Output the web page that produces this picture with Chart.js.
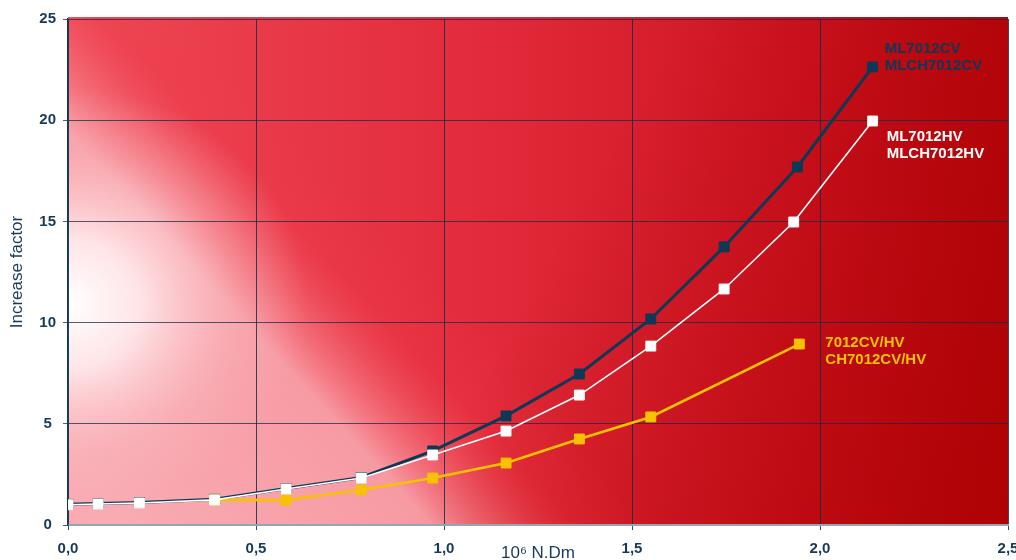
<!DOCTYPE html>
<html>
<head>
<meta charset="utf-8">
<script src="https://cdn.jsdelivr.net/npm/chart.js@4/dist/chart.umd.min.js"></script>
<style>
  html, body { margin: 0; padding: 0; background: #ffffff; }
  #wrap { width: 1016px; height: 560px; }
</style>
</head>
<body>
<div id="wrap"><canvas id="factorChart"></canvas></div>
<script>
// x values (10^6 N.Dm) and increase factor per series
var xCV = [0, 0.08, 0.19, 0.39, 0.58, 0.78, 0.97, 1.165, 1.36, 1.55, 1.745, 1.94, 2.14];
var yCV = [1.02, 1.06, 1.11, 1.27, 1.8, 2.35, 3.66, 5.39, 7.46, 10.18, 13.74, 17.69, 22.63];

var xHV = [0, 0.08, 0.19, 0.39, 0.58, 0.78, 0.97, 1.165, 1.36, 1.55, 1.745, 1.93, 2.14];
var yHV = [1.0, 1.04, 1.09, 1.24, 1.78, 2.32, 3.46, 4.64, 6.42, 8.84, 11.66, 14.97, 19.96];

var xStd = [0.39, 0.58, 0.78, 0.97, 1.165, 1.36, 1.55, 1.945];
var yStd = [1.24, 1.23, 1.73, 2.32, 3.06, 4.25, 5.34, 8.94];

var labelsCV = ["ML7012CV", "MLCH7012CV"];
var labelsHV = ["ML7012HV", "MLCH7012HV"];
var labelsStd = ["7012CV/HV", "CH7012CV/HV"];

var xTitle = "10\u2076 N.Dm";
var yTitle = "Increase factor";

var navy = "#0c3a56";
var textNavy = "#17395a";
var yellow = "#f7c200";
var fontFam = "'Liberation Sans', Arial, sans-serif";

function toPoints(xs, ys){
    return xs.map(function(x, i){ return {x: x, y: ys[i]}; });
}

// red/pink/white background of the plot area
var backgroundPlugin = {
    id: 'plotBackground',
    beforeDraw: function(chart){
        var ctx = chart.ctx;
        var a = chart.chartArea;
        var w = a.right - a.left, h = a.bottom - a.top + 2;
        ctx.save();
        var g = ctx.createLinearGradient(a.left, 0, a.right, 0);
        g.addColorStop(0, '#ee4856');
        g.addColorStop(0.45, '#e22a3a');
        g.addColorStop(0.8, '#cc1220');
        g.addColorStop(1, '#b80810');
        ctx.fillStyle = g;
        ctx.fillRect(a.left, a.top - 2, w, h);

        // pink band below a diagonal running from upper left to bottom middle
        var mx = a.left + 224, my = a.top + 266;
        var nx = 0.734, ny = -0.68;
        var p = ctx.createLinearGradient(mx - 280 * nx, my - 280 * ny, mx + 160 * nx, my + 160 * ny);
        p.addColorStop(0, 'rgba(249,170,178,1)');
        p.addColorStop(0.5, 'rgba(248,160,168,0.95)');
        p.addColorStop(0.62, 'rgba(245,115,125,0.6)');
        p.addColorStop(0.74, 'rgba(242,60,75,0.25)');
        p.addColorStop(0.88, 'rgba(240,60,75,0)');
        p.addColorStop(1, 'rgba(240,60,75,0)');
        ctx.fillStyle = p;
        ctx.fillRect(a.left, a.top - 2, w, h);

        // white glow on the left
        var cy = a.top + 285;
        ctx.save();
        ctx.translate(a.left, cy);
        ctx.scale(1, 0.9);
        var r2 = ctx.createRadialGradient(0, 0, 0, 0, 0, 240);
        r2.addColorStop(0, 'rgba(255,255,255,1)');
        r2.addColorStop(0.3, 'rgba(255,236,238,0.9)');
        r2.addColorStop(0.7, 'rgba(250,190,196,0.35)');
        r2.addColorStop(1, 'rgba(250,180,186,0)');
        ctx.fillStyle = r2;
        ctx.fillRect(0, -400, 400, 800);
        ctx.restore();

        // darker toward bottom right
        var d = ctx.createLinearGradient(a.left, a.top, a.right, a.bottom);
        d.addColorStop(0, 'rgba(170,0,0,0)');
        d.addColorStop(0.5, 'rgba(170,0,0,0)');
        d.addColorStop(1, 'rgba(170,0,0,0.7)');
        ctx.fillStyle = d;
        ctx.fillRect(a.left, a.top - 2, w, h);
        ctx.restore();
    }
};

// series names written next to the last point of each line
var endLabelPlugin = {
    id: 'endLabels',
    afterDatasetsDraw: function(chart){
        var ctx = chart.ctx;
        ctx.save();
        ctx.font = 'bold 15px ' + fontFam;
        ctx.textAlign = 'left';
        ctx.textBaseline = 'middle';
        chart.data.datasets.forEach(function(ds, i){
            var pts = chart.getDatasetMeta(i).data;
            var last = pts[pts.length - 1];
            var o = ds.endLabel;
            ctx.fillStyle = o.color;
            o.lines.forEach(function(line, j){
                ctx.fillText(line, last.x + o.dx, last.y + o.dy + j * 17);
            });
        });
        ctx.restore();
    }
};

document.addEventListener("DOMContentLoaded", function(){
    new Chart(document.getElementById('factorChart'), {
        type: 'scatter',
        data: {
            datasets: [{
                label: labelsHV.join(' '),
                data: toPoints(xHV, yHV),
                showLine: true,
                borderColor: '#ffffff',
                backgroundColor: '#ffffff',
                borderWidth: 1.6,
                pointStyle: 'rect',
                pointRadius: 7,
                pointBorderWidth: 1,
                pointBorderColor: '#ffffff',
                order: 0,
                endLabel: {lines: labelsHV, color: '#ffffff', dx: 14, dy: 16}
            }, {
                label: labelsStd.join(' '),
                data: toPoints(xStd, yStd),
                showLine: true,
                borderColor: yellow,
                backgroundColor: yellow,
                borderWidth: 2.6,
                pointStyle: 'rect',
                pointRadius: 7,
                pointBorderWidth: 1,
                pointBorderColor: yellow,
                order: 1,
                endLabel: {lines: labelsStd, color: yellow, dx: 26, dy: -1}
            }, {
                label: labelsCV.join(' '),
                data: toPoints(xCV, yCV),
                showLine: true,
                borderColor: navy,
                backgroundColor: navy,
                borderWidth: 3,
                pointStyle: 'rect',
                pointRadius: 7,
                pointBorderWidth: 1,
                pointBorderColor: navy,
                order: 2,
                endLabel: {lines: labelsCV, color: navy, dx: 12, dy: -18}
            }]
        },
        options: {
            responsive: true,
            maintainAspectRatio: false,
            animation: false,
            events: [],
            layout: {
                padding: {top: 19, right: 8, left: 0, bottom: 0}
            },
            plugins: {
                legend: {display: false},
                tooltip: {enabled: false}
            },
            scales: {
                x: {
                    type: 'linear',
                    min: 0,
                    max: 2.5,
                    afterFit: function(scale){
                        scale.height = 35;
                        scale.paddingLeft = 0;
                        scale.paddingRight = 0;
                    },
                    ticks: {
                        stepSize: 0.5,
                        padding: 10,
                        color: textNavy,
                        font: {family: fontFam, size: 15, weight: 'bold'},
                        callback: function(value){
                            return value.toFixed(1).replace('.', ',');
                        }
                    },
                    grid: {
                        color: 'rgba(16,46,76,0.85)',
                        lineWidth: 1,
                        tickLength: 5
                    },
                    border: {color: '#8ea8b8', width: 2},
                    title: {
                        display: true,
                        text: xTitle,
                        color: textNavy,
                        font: {family: fontFam, size: 17},
                        padding: {top: 0, bottom: -4}
                    }
                },
                y: {
                    min: 0,
                    max: 25,
                    afterFit: function(scale){
                        scale.width = 68;
                        scale.paddingTop = 0;
                        scale.paddingBottom = 0;
                    },
                    ticks: {
                        stepSize: 5,
                        padding: 7,
                        crossAlign: 'center',
                        color: textNavy,
                        font: {family: fontFam, size: 15, weight: 'bold'}
                    },
                    grid: {
                        color: 'rgba(16,46,76,0.75)',
                        lineWidth: 1,
                        tickLength: 5
                    },
                    border: {color: navy, width: 1.5},
                    title: {
                        display: true,
                        text: yTitle,
                        color: textNavy,
                        font: {family: fontFam, size: 17},
                        padding: {top: 7, bottom: 0}
                    }
                }
            }
        },
        plugins: [backgroundPlugin, endLabelPlugin]
    });
});
</script>
</body>
</html>
